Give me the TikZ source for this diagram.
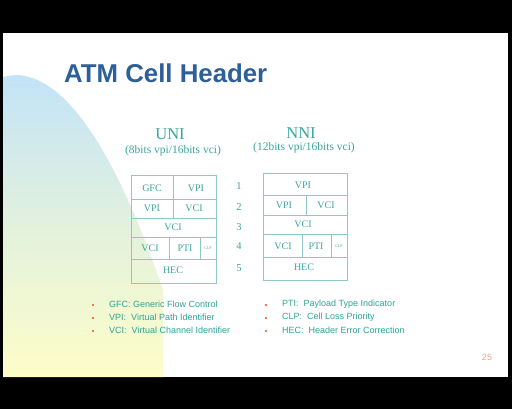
\documentclass[tikz,border=0pt]{standalone}
\usepackage{fontspec}
\setmainfont{Liberation Serif}
\setsansfont{Liberation Sans}
\definecolor{titleblue}{HTML}{2D5F99}
\definecolor{tealtxt}{HTML}{3AA6A0}
\definecolor{legtxt}{HTML}{2EA496}
\definecolor{gridline}{HTML}{8CC8C4}
\definecolor{bulletc}{HTML}{F07850}
\definecolor{pagec}{HTML}{F0A888}
\definecolor{skyb}{HTML}{C2E3F8}
\definecolor{paley}{HTML}{FDFDC8}
\tikzset{
  grid/.style={draw=gridline, line width=0.6pt},
  cell/.style={text=tealtxt, font=\rmfamily\fontsize{10}{12}\selectfont, inner sep=0pt},
  tiny/.style={text=tealtxt, font=\rmfamily\fontsize{4}{5}\selectfont, inner sep=0pt},
  rownum/.style={text=tealtxt, font=\rmfamily\fontsize{10.5}{12}\selectfont, inner sep=0pt},
  head/.style={text=tealtxt, font=\rmfamily\fontsize{16.5}{19}\selectfont, inner sep=0pt},
  sub/.style={text=tealtxt, font=\rmfamily\fontsize{11.5}{13}\selectfont, inner sep=0pt},
  legend/.style={text=legtxt, font=\sffamily\fontsize{9}{11}\selectfont, inner sep=0pt, anchor=west},
  bullet/.style={fill=bulletc, draw=none, minimum size=2.6pt, inner sep=0pt},
}
\begin{document}
\begin{tikzpicture}[x=1pt,y=-1pt]
\useasboundingbox (0,0) rectangle (512,409);
\fill[black] (0,0) rectangle (512,409);
\fill[white] (3,33) rectangle (508,377);
% decorative gradient shape
\shade[top color=skyb, bottom color=paley, middle color=skyb!45!paley, draw=none]
  (3,77) -- (15,75) .. controls (64,75) and (114,147) .. (163,290) -- (163,377) -- (3,377) -- cycle;
% title
\node[anchor=base west, text=titleblue, font=\sffamily\bfseries\fontsize{25.8}{30}\selectfont, inner sep=0pt] (title) at (64,83) {ATM Cell Header};
% headings
\node[head] (uni) at (170,134) {UNI};
\node[sub] (unisub) at (173,151) {(8bits vpi/16bits vci)};
\node[head] (nni) at (301,133) {NNI};
\node[sub] (nnisub) at (304,148) {(12bits vpi/16bits vci)};
% UNI table
\draw[grid] (131,175) rectangle (216,283);
\draw[grid] (131,199) -- (216,199);
\draw[grid] (131,218) -- (216,218);
\draw[grid] (131,237) -- (216,237);
\draw[grid] (131,259) -- (216,259);
\draw[grid] (173,175) -- (173,218);
\draw[grid] (169,237) -- (169,259);
\draw[grid] (200,237) -- (200,259);
\node[cell] (u1a) at (152,188) {GFC};
\node[cell] (u1b) at (196,188) {VPI};
\node[cell] (u2a) at (152,208) {VPI};
\node[cell] (u2b) at (194,208) {VCI};
\node[cell] (u3) at (173,227) {VCI};
\node[cell] (u4a) at (150,248) {VCI};
\node[cell] (u4b) at (185,248) {PTI};
\node[tiny] (u4c) at (208,248) {CLP};
\node[cell] (u5) at (173,270) {HEC};
% row numbers
\node[rownum] (n1) at (239,186) {1};
\node[rownum] (n2) at (239,207) {2};
\node[rownum] (n3) at (239,227) {3};
\node[rownum] (n4) at (239,246) {4};
\node[rownum] (n5) at (239,268) {5};
% NNI table
\draw[grid] (263,173) rectangle (347,280);
\draw[grid] (263,195) -- (347,195);
\draw[grid] (263,215) -- (347,215);
\draw[grid] (263,234) -- (347,234);
\draw[grid] (263,257) -- (347,257);
\draw[grid] (306,195) -- (306,215);
\draw[grid] (302,234) -- (302,257);
\draw[grid] (331,234) -- (331,257);
\node[cell] (m1) at (303,185) {VPI};
\node[cell] (m2a) at (284,205) {VPI};
\node[cell] (m2b) at (326,205) {VCI};
\node[cell] (m3) at (303,224) {VCI};
\node[cell] (m4a) at (283,246) {VCI};
\node[cell] (m4b) at (316,246) {PTI};
\node[tiny] (m4c) at (339,246) {CLP};
\node[cell] (m5) at (304,267) {HEC};
% legend
\node[bullet] (b1) at (93,305) {};
\node[bullet] (b2) at (93,318) {};
\node[bullet] (b3) at (93,331) {};
\node[legend] (l1) at (109,304) {GFC: Generic Flow Control};
\node[legend] (l2) at (109,317) {VPI:\ \ Virtual Path Identifier};
\node[legend] (l3) at (109,330) {VCI:\ \ Virtual Channel Identifier};
\node[bullet] (b4) at (266,305) {};
\node[bullet] (b5) at (266,318) {};
\node[bullet] (b6) at (266,331) {};
\node[legend] (l4) at (282,304) {PTI:\ \ Payload Type Indicator};
\node[legend] (l5) at (282,317) {CLP:\ \ Cell Loss Priority};
\node[legend] (l6) at (282,330) {HEC:\ \ Header Error Correction};
% page number
\node[text=pagec, font=\sffamily\fontsize{9}{11}\selectfont, inner sep=0pt] (page) at (487,357) {25};
\end{tikzpicture}
\end{document}
